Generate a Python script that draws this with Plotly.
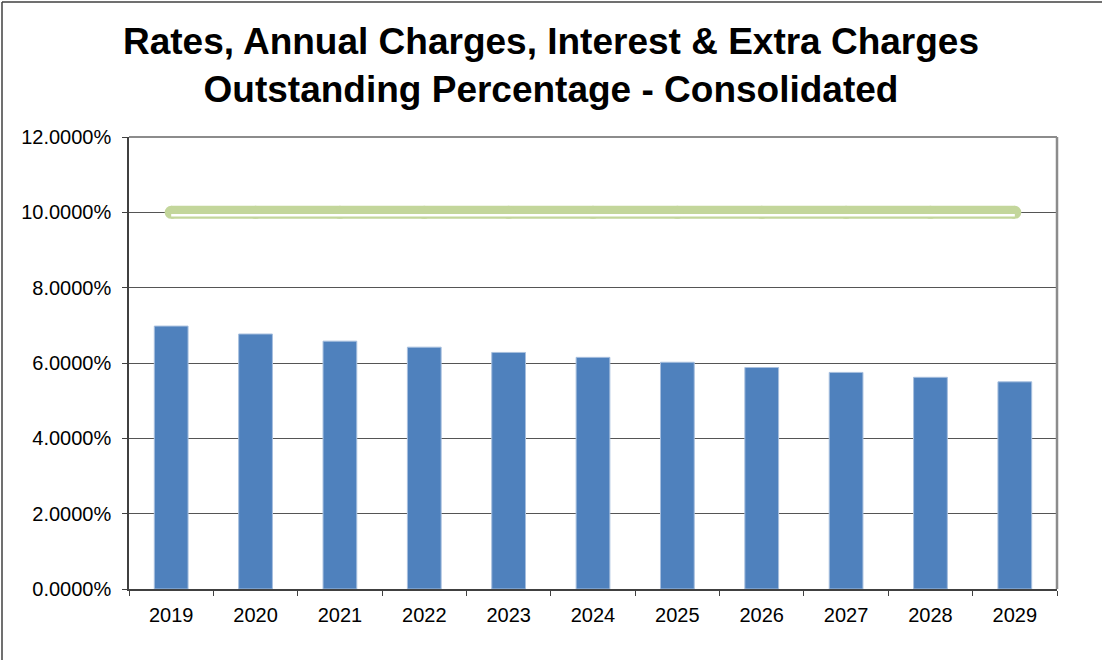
import plotly.graph_objects as go

years = ["2019", "2020", "2021", "2022", "2023", "2024", "2025", "2026", "2027", "2028", "2029"]
outstanding = [0.0698, 0.0677, 0.0658, 0.0642, 0.0628, 0.0615, 0.0602, 0.0588, 0.0575, 0.0562, 0.0550]
target = [0.10] * len(years)
y_ticks = [0.0, 0.02, 0.04, 0.06, 0.08, 0.10, 0.12]

title_text = "Rates, Annual Charges, Interest & Extra Charges<br>Outstanding Percentage - Consolidated"

FONT = "Liberation Sans, Arial, sans-serif"

L, R, T, B = 129, 45, 137, 71
W, H = 1102, 660
pw, ph = W - L - R, H - T - B
Y_RANGE = [0, 0.12]
X_RANGE = [-0.5, len(years) - 0.5]
hl_shift = 3 * (Y_RANGE[1] - Y_RANGE[0]) / ph  # highlight drawn 3px below centre

fig = go.Figure()
fig.add_trace(go.Bar(
    x=years, y=outstanding,
    marker=dict(color="#4F81BD", line=dict(color="#A7BFDE", width=1)),
    showlegend=False, hoverinfo="skip",
))
fig.add_trace(go.Scatter(
    x=years, y=target, mode="lines+markers",
    line=dict(color="#C3D69B", width=13),
    marker=dict(color="#C3D69B", size=13, line=dict(width=0)),
    showlegend=False, hoverinfo="skip",
))
fig.add_trace(go.Scatter(
    x=years, y=target, mode="lines", yaxis="y2",
    line=dict(color="#FFFFFF", width=2.5),
    showlegend=False, hoverinfo="skip",
))

def px_x(p):
    return (p - L) / pw

def px_y(p):
    return (H - B - p) / ph

shapes = [
    dict(type="line", xref="paper", yref="paper", x0=0, x1=1, y0=1, y1=1,
         line=dict(color="#8C8C8C", width=2)),
    dict(type="line", xref="paper", yref="paper", x0=1, x1=1, y0=0, y1=1,
         line=dict(color="#8C8C8C", width=2.5)),
    dict(type="line", xref="paper", yref="paper", x0=px_x(2), x1=px_x(1110), y0=px_y(2), y1=px_y(2),
         line=dict(color="#404040", width=1.5)),
    dict(type="line", xref="paper", yref="paper", x0=px_x(2), x1=px_x(2), y0=px_y(2), y1=px_y(670),
         line=dict(color="#404040", width=1.5)),
]

fig.update_layout(
    width=W, height=H,
    margin=dict(l=L, r=R, t=T, b=B, autoexpand=False),
    paper_bgcolor="white", plot_bgcolor="white",
    bargap=0.6,
    title=dict(text=title_text, x=0.5, xanchor="center", xref="container",
               y=1 - 54 / H, yanchor="top", yref="container",
               font=dict(family=FONT, size=37, color="black", weight="bold")),
    font=dict(family=FONT, color="black"),
    shapes=shapes,
    xaxis=dict(
        type="category", range=X_RANGE, showgrid=False, showline=True,
        linecolor="#404040", linewidth=1.5,
        ticks="outside", ticklen=5, tickcolor="#404040", tickson="boundaries",
        ticklabelstandoff=7,
        tickfont=dict(size=20, family=FONT, color="black"), fixedrange=True,
    ),
    yaxis=dict(
        range=Y_RANGE, tickvals=y_ticks, tickformat=".4%",
        showgrid=True, gridcolor="#555555", gridwidth=1,
        showline=True, linecolor="#404040", linewidth=1.5,
        ticks="outside", ticklen=5, tickcolor="#404040",
        ticklabelstandoff=7,
        tickfont=dict(size=20, family=FONT, color="black"),
        zeroline=False, fixedrange=True,
    ),
    yaxis2=dict(
        overlaying="y", range=[Y_RANGE[0] + hl_shift, Y_RANGE[1] + hl_shift],
        visible=False, fixedrange=True,
    ),
)

fig.write_html("out.html", config={"displayModeBar": False},
               post_script="document.body.style.margin='0px';")
